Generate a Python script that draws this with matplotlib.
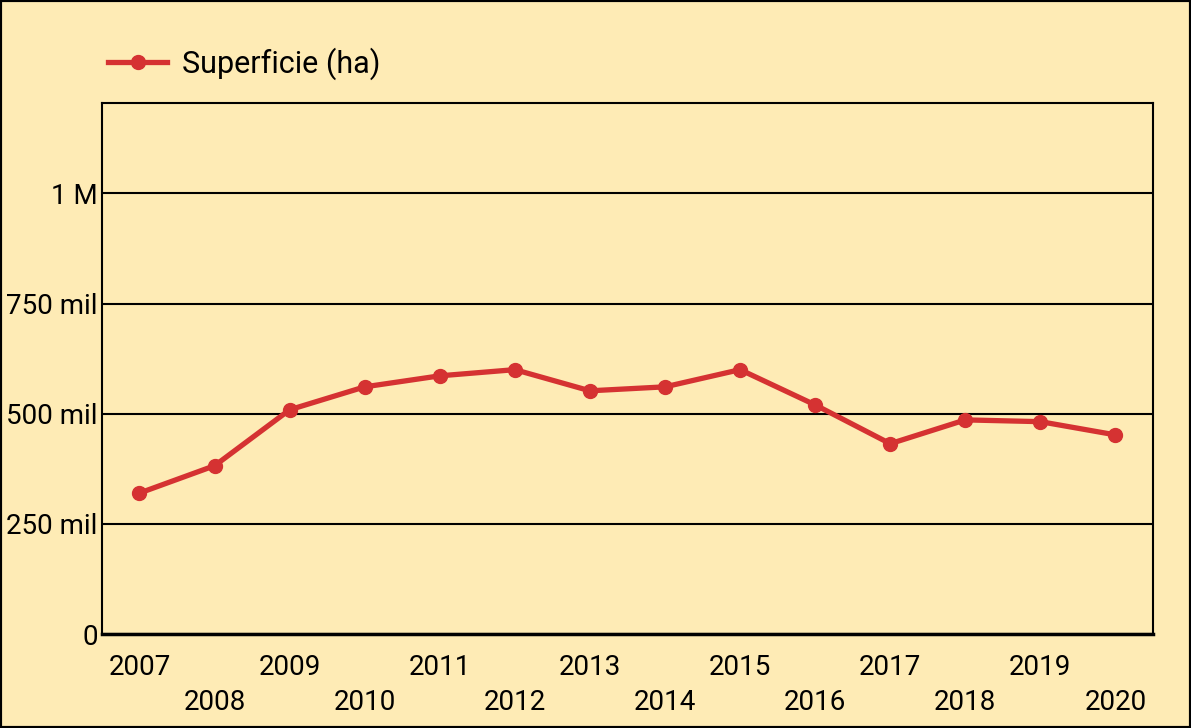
import numpy as np
import matplotlib.pyplot as plt
from matplotlib.lines import Line2D
from matplotlib.patches import Rectangle

plt.rcParams['font.family'] = ['Roboto', 'DejaVu Sans']

years = ['2007', '2008', '2009', '2010', '2011', '2012', '2013',
         '2014', '2015', '2016', '2017', '2018', '2019', '2020']
superficie = [320000, 382000, 509000, 561000, 586000, 600000, 552000,
              561000, 600000, 520000, 432000, 486000, 482000, 452000]
yticks = [0, 250000, 500000, 750000, 1000000]
ylabels = ['0', '250 mil', '500 mil', '750 mil', '1 M']

bg = '#FEEBB5'
red = '#D53232'

fig = plt.figure(figsize=(11.91, 7.28), dpi=100, facecolor=bg)
ax = fig.add_axes([0.0856, 0.129, 0.8825, 0.7295])
ax.set_facecolor(bg)

x = np.arange(len(years))
ax.plot(x, superficie, color=red, lw=3.8, marker='o', ms=10, zorder=3, clip_on=False)

ax.set_xlim(-0.5, len(years) - 0.5)
ax.set_ylim(0, 1205000)
ax.set_yticks(yticks)
ax.set_yticklabels(ylabels, fontsize=20)
ax.yaxis.grid(True, color='black', lw=1.5)
ax.set_axisbelow(True)
ax.tick_params(axis='y', length=0, pad=3)
ax.tick_params(axis='x', length=0)

# alternating two-row year labels
ax.set_xticks(x)
ax.set_xticklabels([''] * len(years))
for i, yr in enumerate(years):
    dy = -33 if i % 2 == 0 else -68
    ax.annotate(yr, (i, 0), xytext=(0, dy), textcoords='offset pixels',
                ha='center', va='center', fontsize=20, annotation_clip=False)

for s in ['left', 'top', 'right']:
    ax.spines[s].set_linewidth(1.5)
ax.spines['bottom'].set_linewidth(2.5)

handle = Line2D([], [], color=red, lw=3.8, marker='o', ms=10)
fig.legend([handle], ['Superficie (ha)'], loc='center left', bbox_to_anchor=(0.068, 0.913),
           frameon=False, fontsize=22, handlelength=1.9, handletextpad=0.5)

fig.patches.append(Rectangle((0, 0), 1, 1, transform=fig.transFigure, fill=False,
                             edgecolor='black', lw=3, zorder=10))

plt.savefig('out.png', dpi=100, facecolor=bg)
